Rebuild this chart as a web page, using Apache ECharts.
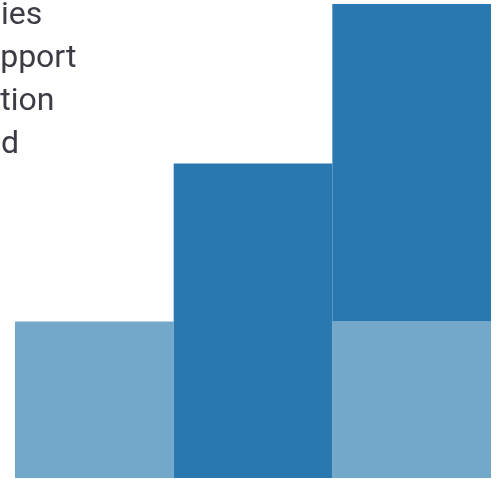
<!DOCTYPE html>
<html>
<head>
<meta charset="utf-8">
<script src="https://cdn.jsdelivr.net/npm/echarts@6/dist/echarts.min.js"></script>
<style>
  html, body { margin: 0; padding: 0; background: #fff; }
  #chart { width: 501px; height: 479px; }
</style>
</head>
<body>
<div id="chart"></div>
<script>
// chart data
var categories = ['A', 'B', 'C']
var lightValues = [0.99, '-', 0.99]
var darkValues = ['-', 1.99, 2.01]
var titleLines = ['cities', 'support', 'action', 'and']

var chart = echarts.init(document.getElementById('chart'))
var option = {
  animation: false,
  title: {
    text: titleLines.join('\n'),
    left: -34,
    top: -6,
    padding: 0,
    textStyle: {
      fontFamily: 'Roboto',
      fontSize: 32,
      fontWeight: 'normal',
      lineHeight: 43,
      color: '#3c3c46'
    }
  },
  grid: {
    left: 15,
    right: 10,
    top: 4,
    bottom: 1
  },
  xAxis: {
    type: 'category',
    data: categories,
    show: false
  },
  yAxis: {
    type: 'value',
    min: 0,
    max: 3,
    show: false,
    splitLine: { show: false }
  },
  series: [
    {
      name: 'light',
      type: 'bar',
      stack: 'total',
      barCategoryGap: 0,
      data: lightValues,
      itemStyle: { color: '#74a8ca' }
    },
    {
      name: 'dark',
      type: 'bar',
      stack: 'total',
      barCategoryGap: 0,
      data: darkValues,
      itemStyle: { color: '#2979b0' }
    }
  ]
}
chart.setOption(option)
</script>
</body>
</html>
